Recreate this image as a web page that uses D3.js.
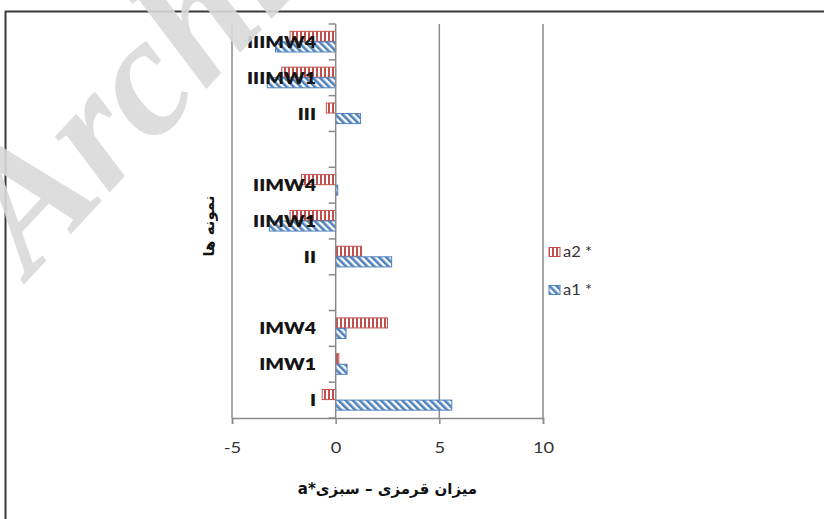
<!DOCTYPE html>
<html>
<head>
<meta charset="utf-8">
<script src="https://cdn.jsdelivr.net/npm/d3@7"></script>
<style>
  html, body { margin: 0; padding: 0; background: #fff; }
  svg { display: block; }
</style>
</head>
<body>
<svg id="chart" width="824" height="519"></svg>
<script>
// Samples, bottom to top (blank entries are group separators)
const categories = ["I", "IMW1", "IMW4", "", "II", "IIMW1", "IIMW4", "", "III", "IIIMW1", "IIIMW4"];
const seriesNames = ["a2 *", "a1 *"];
const a2Values = [-0.65, 0.15, 2.5, null, 1.25, -2.2, -1.65, null, -0.45, -2.6, -2.2];
const a1Values = [5.6, 0.55, 0.5, null, 2.7, -3.2, 0.1, null, 1.2, -3.3, -2.9];
const xTicks = [-5, 0, 5, 10];
const xTitle = "میزان قرمزی – سبزی*a";
const yTitle = "نمونه ها";

const RED = "#c0504d", BLUE = "#4f81bd", GRID = "#8a8a8a";
const LATIN = "Lato, 'Open Sans', sans-serif";
const ARABIC = "'DejaVu Sans', sans-serif";
const STRETCH = 1.22;

const svg = d3.select("#chart");

// Hatch fills for the two series
const defs = svg.append("defs");
const pRed = defs.append("pattern").attr("id", "hatch-a2")
  .attr("patternUnits", "userSpaceOnUse").attr("width", 4).attr("height", 4);
pRed.append("rect").attr("width", 4).attr("height", 4).attr("fill", "#fff");
pRed.append("rect").attr("x", 0).attr("width", 2).attr("height", 4).attr("fill", RED);

const pBlue = defs.append("pattern").attr("id", "hatch-a1")
  .attr("patternUnits", "userSpaceOnUse").attr("width", 5).attr("height", 5)
  .attr("patternTransform", "rotate(-45)");
pBlue.append("rect").attr("width", 5).attr("height", 5).attr("fill", "#fff");
pBlue.append("rect").attr("x", 0).attr("width", 2.6).attr("height", 5).attr("fill", BLUE);

// Outer frame (top and left edges)
svg.append("line").attr("x1", 5).attr("x2", 824).attr("y1", 11.5).attr("y2", 11.5)
  .attr("stroke", "#3a3a3a").attr("stroke-width", 2);
svg.append("line").attr("x1", 5.5).attr("x2", 5.5).attr("y1", 11).attr("y2", 519)
  .attr("stroke", "#3a3a3a").attr("stroke-width", 2);

// Scales
const x = d3.scaleLinear().domain([-5, 10]).range([232, 543]);
const idx = d3.range(categories.length);
const y = d3.scaleBand().domain(idx).range([418, 24]).paddingInner(0.41).paddingOuter(0.205);
const ySeries = d3.scaleBand().domain([0, 1]).range([0, y.bandwidth()]);
const step = y.step();
const plotTop = 24, plotBottom = 418;

// Vertical gridlines
svg.append("g").selectAll("line").data(xTicks.filter(d => d !== 0)).join("line")
  .attr("x1", d => x(d)).attr("x2", d => x(d)).attr("y1", plotTop).attr("y2", plotBottom)
  .attr("stroke", GRID).attr("stroke-width", 1.5);

// Bars
const series = [
  { name: seriesNames[0], values: a2Values, fill: "url(#hatch-a2)", stroke: RED },
  { name: seriesNames[1], values: a1Values, fill: "url(#hatch-a1)", stroke: BLUE }
];
series.forEach((s, si) => {
  svg.append("g").selectAll("rect")
    .data(s.values.map((v, i) => ({ v, i })).filter(d => d.v !== null))
    .join("rect")
    .attr("x", d => Math.min(x(0), x(d.v)))
    .attr("width", d => Math.abs(x(d.v) - x(0)))
    .attr("y", d => y(d.i) + ySeries(si))
    .attr("height", ySeries.bandwidth() - 0.5)
    .attr("fill", s.fill)
    .attr("stroke", s.stroke)
    .attr("stroke-width", 1);
});

// Category axis at zero with tick marks on its left side
const yAxisG = svg.append("g");
yAxisG.append("line").attr("x1", x(0)).attr("x2", x(0)).attr("y1", plotTop).attr("y2", plotBottom)
  .attr("stroke", GRID).attr("stroke-width", 1.5);
yAxisG.selectAll("line.tk").data(d3.range(categories.length + 1)).join("line").attr("class", "tk")
  .attr("x1", x(0) - 7).attr("x2", x(0))
  .attr("y1", d => plotBottom - d * step).attr("y2", d => plotBottom - d * step)
  .attr("stroke", GRID).attr("stroke-width", 1.5);

// Value axis
const xAxis = d3.axisBottom(x).tickValues(xTicks).tickSize(6).tickPadding(18).tickFormat(d => String(d));
const xAxisG = svg.append("g").attr("transform", `translate(0,${plotBottom})`).call(xAxis);
xAxisG.select(".domain").attr("stroke", GRID).attr("stroke-width", 1.5);
xAxisG.selectAll(".tick line").attr("stroke", GRID).attr("stroke-width", 1.5);
xAxisG.selectAll(".tick text")
  .attr("font-family", LATIN).attr("font-size", 15).attr("fill", "#333")
  .attr("transform", `scale(${STRETCH},1)`)
  .attr("x", 0);

// Category labels, drawn over the negative bars
svg.append("g").selectAll("text")
  .data(idx.filter(i => categories[i] !== ""))
  .join("text")
  .attr("transform", i => `translate(316,${y(i) + y.bandwidth() / 2 + 6}) scale(${STRETCH},1)`)
  .attr("text-anchor", "end")
  .attr("font-family", LATIN).attr("font-weight", 800).attr("font-size", 16)
  .attr("fill", "#151515")
  .text(i => categories[i]);

// Axis titles
svg.append("text")
  .attr("x", (x(-5) + x(10)) / 2).attr("y", 494)
  .attr("text-anchor", "middle").attr("direction", "rtl")
  .attr("font-family", ARABIC).attr("font-weight", 700).attr("font-size", 15)
  .attr("fill", "#111").text(xTitle);

svg.append("text")
  .attr("transform", "translate(214,226) rotate(-90)")
  .attr("text-anchor", "middle").attr("direction", "rtl")
  .attr("font-family", ARABIC).attr("font-weight", 700).attr("font-size", 15)
  .attr("fill", "#111").text(yTitle);

// Legend
const legend = svg.append("g");
series.forEach((s, si) => {
  const cy = 252 + si * 38;
  legend.append("rect").attr("x", 549).attr("y", cy - 4.5).attr("width", 11).attr("height", 9)
    .attr("fill", s.fill).attr("stroke", s.stroke).attr("stroke-width", 1);
  legend.append("text")
    .attr("transform", `translate(563,${cy + 5}) scale(1.1,1)`)
    .attr("font-family", LATIN).attr("font-size", 15).attr("fill", "#333")
    .text(s.name);
});

// Watermark
svg.append("text")
  .attr("transform", "translate(30,278) rotate(-47)")
  .attr("font-family", "'Liberation Serif', serif").attr("font-style", "italic").attr("font-weight", 700)
  .attr("font-size", 170).attr("fill", "#d9d9d9").attr("fill-opacity", 0.9)
  .text("Archive");
</script>
</body>
</html>
